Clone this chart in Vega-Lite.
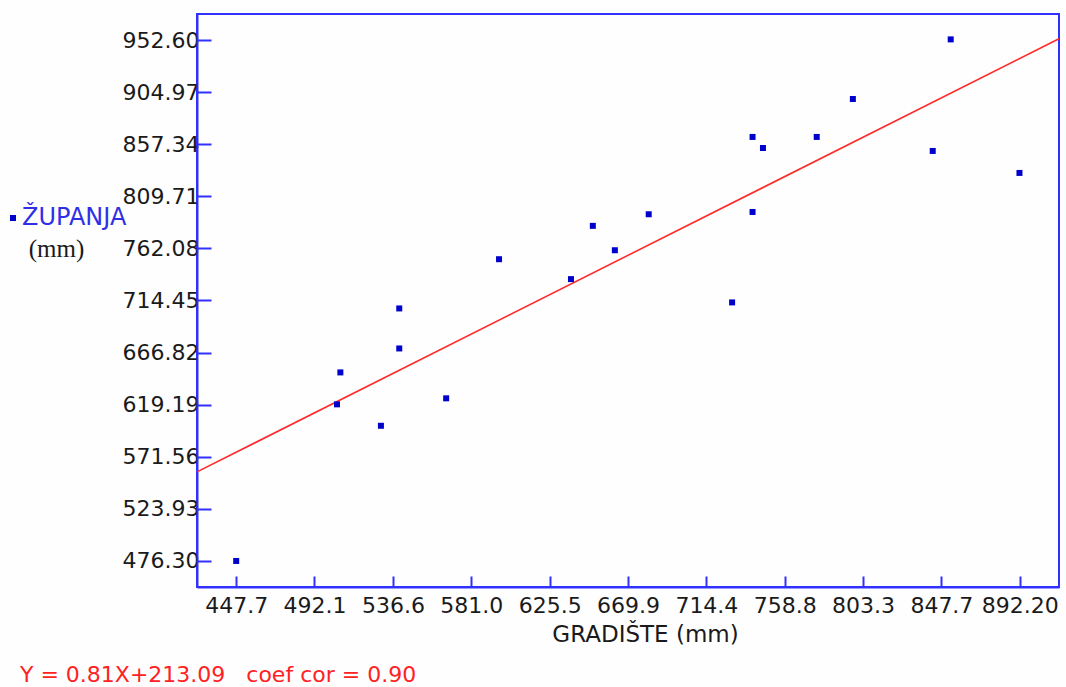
{
  "$schema": "https://vega.github.io/schema/vega-lite/v6.json",
  "width": 862,
  "height": 573,
  "autosize": {"type": "none"},
  "padding": {"left": 197, "top": 14, "right": 7, "bottom": 100},
  "background": "#fefefe",
  "title": {
    "text": "Y = 0.81X+213.09\u00a0\u00a0\u00a0coef cor = 0.90",
    "orient": "bottom",
    "anchor": "start",
    "frame": "group",
    "dx": -177,
    "offset": 19,
    "font": "DejaVu Sans",
    "fontSize": 22,
    "fontWeight": "normal",
    "color": "#ff2222"
  },
  "config": {
    "view": {"stroke": "#3030ff", "strokeWidth": 2},
    "axis": {
      "grid": false,
      "domainColor": "#3030ff",
      "domainWidth": 2,
      "tickColor": "#3030ff",
      "tickWidth": 2,
      "labelFont": "DejaVu Sans",
      "labelFontSize": 22,
      "labelColor": "#1a1a1a",
      "titleFont": "DejaVu Sans",
      "titleFontSize": 22,
      "titleFontWeight": "normal",
      "titleColor": "#1a1a1a"
    }
  },
  "layer": [
    {
      "data": {"values": [
        {"gradiste": 425.475, "zupanja": 557.725},
        {"gradiste": 914.425, "zupanja": 953.774}
      ]},
      "mark": {"type": "line", "color": "#ff2a2a", "strokeWidth": 1.6},
      "encoding": {
        "x": {"field": "gradiste", "type": "quantitative"},
        "y": {"field": "zupanja", "type": "quantitative"}
      }
    },
    {
      "data": {"values": [
        {"gradiste": 447.7, "zupanja": 476.3},
        {"gradiste": 504.9, "zupanja": 619.5},
        {"gradiste": 506.8, "zupanja": 648.7},
        {"gradiste": 529.8, "zupanja": 599.9},
        {"gradiste": 540.2, "zupanja": 707.2},
        {"gradiste": 540.2, "zupanja": 670.6},
        {"gradiste": 566.8, "zupanja": 625.0},
        {"gradiste": 596.8, "zupanja": 752.2},
        {"gradiste": 637.6, "zupanja": 734.0},
        {"gradiste": 650.0, "zupanja": 782.7},
        {"gradiste": 662.5, "zupanja": 760.4},
        {"gradiste": 681.7, "zupanja": 793.3},
        {"gradiste": 729.0, "zupanja": 712.7},
        {"gradiste": 740.6, "zupanja": 864.0},
        {"gradiste": 740.6, "zupanja": 795.4},
        {"gradiste": 746.5, "zupanja": 853.9},
        {"gradiste": 777.0, "zupanja": 864.0},
        {"gradiste": 797.5, "zupanja": 898.7},
        {"gradiste": 842.8, "zupanja": 851.2},
        {"gradiste": 853.0, "zupanja": 953.2},
        {"gradiste": 892.0, "zupanja": 831.1}
      ]},
      "mark": {"type": "square", "size": 36, "opacity": 1},
      "encoding": {
        "x": {
          "field": "gradiste",
          "type": "quantitative",
          "scale": {"domain": [425.475, 914.425], "nice": false, "zero": false},
          "axis": {
            "title": "GRADIŠTE (mm)",
            "values": [447.7, 492.1, 536.6, 581.0, 625.5, 669.9, 714.4, 758.8, 803.3, 847.7, 892.2],
            "labelExpr": "datum.value > 890 ? format(datum.value, '.2f') : format(datum.value, '.1f')",
            "tickSize": -11,
            "labelPadding": 19,
            "titleFontSize": 23,
            "titleX": 448,
            "titleY": 54,
            "titleAlign": "center",
            "titleBaseline": "alphabetic"
          }
        },
        "y": {
          "field": "zupanja",
          "type": "quantitative",
          "scale": {"domain": [452.485, 976.415], "nice": false, "zero": false},
          "axis": {
            "title": "(mm)",
            "values": [476.3, 523.93, 571.56, 619.19, 666.82, 714.45, 762.08, 809.71, 857.34, 904.97, 952.6],
            "format": ".2f",
            "tickSize": -14,
            "labelPadding": 12,
            "titleFont": "Liberation Serif",
            "titleFontSize": 25,
            "titleAngle": 0,
            "titleX": -141,
            "titleY": 242,
            "titleAlign": "center",
            "titleBaseline": "alphabetic"
          }
        },
        "color": {
          "datum": "ŽUPANJA",
          "scale": {"range": ["#0000cc"]},
          "legend": {
            "orient": "none",
            "legendX": -196,
            "legendY": 192,
            "title": null,
            "padding": 0,
            "symbolType": "square",
            "symbolSize": 36,
            "symbolStrokeWidth": 0,
            "labelFont": "DejaVu Sans",
            "labelFontSize": 24,
            "labelColor": "#2f2fe6",
            "labelOffset": -3
          }
        }
      }
    }
  ]
}
